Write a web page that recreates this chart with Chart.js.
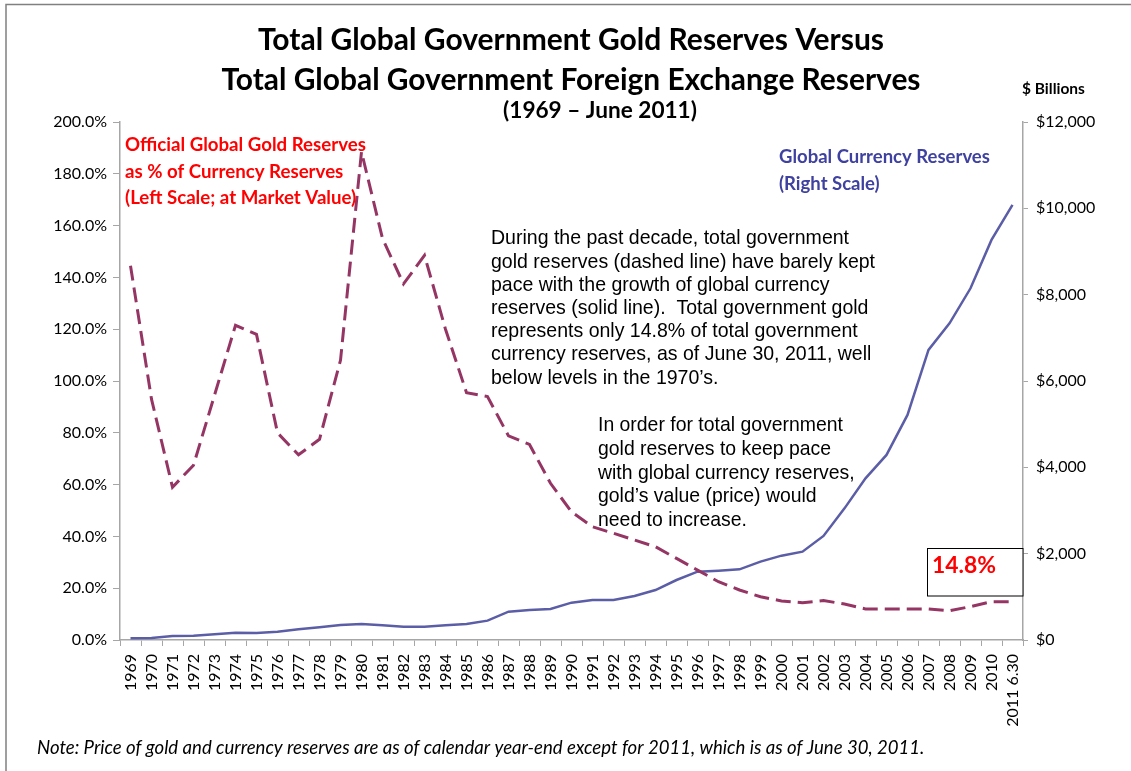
<!DOCTYPE html>
<html>
<head>
<meta charset="utf-8">
<script src="https://cdn.jsdelivr.net/npm/chart.js@4"></script>
<style>
  html, body { margin: 0; padding: 0; background: #ffffff; }
  #wrap { width: 1131px; height: 771px; position: relative; }
</style>
</head>
<body>
<div id="wrap"><canvas id="c" width="1131" height="771"></canvas></div>
<script>
// ---------- DATA ----------
const years = ['1969','1970','1971','1972','1973','1974','1975','1976','1977','1978','1979',
  '1980','1981','1982','1983','1984','1985','1986','1987','1988','1989',
  '1990','1991','1992','1993','1994','1995','1996','1997','1998','1999',
  '2000','2001','2002','2003','2004','2005','2006','2007','2008','2009','2010','2011 6.30'];

// Official global gold reserves as % of currency reserves (left scale)
const goldPctOfReserves = [144.5, 93, 59, 67.5, 94.5, 121.5, 118, 80, 71.5, 77.5, 108,
  188.5, 155, 137.5, 148.5, 120, 95.5, 94, 78.8, 75.5, 60.5,
  49.5, 43.7, 41.2, 38.6, 36, 31.5, 27, 22.5, 19.3, 16.7,
  15.1, 14.4, 15.2, 13.9, 12, 12, 12, 12, 11.3, 12.9, 14.8, 14.8];

// Global currency reserves, $ billions (right scale)
const currencyReserves = [40, 45, 93, 100, 131, 170, 165, 193, 247, 293, 347,
  370, 340, 309, 309, 340, 370, 448, 656, 695, 718,
  865, 927, 927, 1019, 1158, 1390, 1583, 1606, 1637, 1815,
  1954, 2046, 2410, 3050, 3746, 4287, 5214, 6719, 7337, 8148, 9268, 10079];

const leftAxis = { min: 0, max: 200, step: 20 };
const rightAxis = { min: 0, max: 12000, step: 2000 };

const titleLines = ['Total Global Government Gold Reserves Versus',
                    'Total Global Government Foreign Exchange Reserves'];
const subtitle = '(1969 \u2013 June 2011)';
const rightUnit = '$ Billions';
const goldLabel = ['Official Global Gold Reserves', 'as % of Currency Reserves', '(Left Scale; at Market Value)'];
const currencyLabel = ['Global Currency Reserves', '(Right Scale)'];
const para1 = ['During the past decade, total government',
  'gold reserves (dashed line) have barely kept',
  'pace with the growth of global currency',
  'reserves (solid line).  Total government gold',
  'represents only 14.8% of total government',
  'currency reserves, as of June 30, 2011, well',
  'below levels in the 1970\u2019s.'];
const para2 = ['In order for total government',
  'gold reserves to keep pace',
  'with global currency reserves,',
  'gold\u2019s value (price) would',
  'need to increase.'];
const callout = '14.8%';
const note = 'Note: Price of gold and currency reserves are as of calendar year-end except for 2011, which is as of June 30, 2011.';

// ---------- DRAWING HELPERS ----------
function fitSize(ctx, text, width, style, family) {
  ctx.font = style + ' 20px ' + family;
  const w = ctx.measureText(text).width;
  return 20 * width / w;
}
function drawLines(ctx, lines, x, y0, lh, size, style, family, color, align) {
  ctx.font = style + ' ' + size.toFixed(2) + 'px ' + family;
  ctx.fillStyle = color;
  ctx.textAlign = align || 'left';
  ctx.textBaseline = 'middle';
  lines.forEach((t, i) => ctx.fillText(t, x, y0 + i * lh));
}

const annotations = {
  id: 'annotations',
  beforeDraw(chart) {
    const ctx = chart.ctx;
    ctx.save();
    ctx.fillStyle = '#ffffff';
    ctx.fillRect(0, 0, chart.width, chart.height);
    // frame (top and left visible)
    ctx.strokeStyle = '#808080';
    ctx.lineWidth = 1.5;
    ctx.beginPath();
    ctx.moveTo(6, 771); ctx.lineTo(6, 4.5); ctx.lineTo(1131, 4.5);
    ctx.stroke();
    ctx.restore();
  },
  afterDraw(chart) {
    const ctx = chart.ctx;
    ctx.save();
    const cal = 'Lato, "Open Sans", sans-serif';
    const ari = '"Liberation Sans", Arial, sans-serif';
    // Title
    let s = fitSize(ctx, titleLines[0], 626, 'bold', cal);
    drawLines(ctx, [titleLines[0]], 571, 40, 0, s, 'bold', cal, '#000', 'center');
    s = fitSize(ctx, titleLines[1], 699, 'bold', cal);
    drawLines(ctx, [titleLines[1]], 571, 80, 0, s, 'bold', cal, '#000', 'center');
    s = fitSize(ctx, subtitle, 194, 'bold', cal);
    drawLines(ctx, [subtitle], 600, 111, 0, s, 'bold', cal, '#000', 'center');
    s = fitSize(ctx, rightUnit, 63, 'bold', cal);
    drawLines(ctx, [rightUnit], 1022, 89, 0, s, 'bold', cal, '#000', 'left');
    // Gold label (red)
    s = fitSize(ctx, goldLabel[0], 241, 'bold', cal);
    drawLines(ctx, goldLabel, 125, 145, 26.5, s, 'bold', cal, '#FF0000', 'left');
    // Currency label (blue)
    s = fitSize(ctx, currencyLabel[0], 211, 'bold', cal);
    drawLines(ctx, currencyLabel, 779, 157, 27, s, 'bold', cal, '#3F41A0', 'left');
    // Paragraphs
    s = fitSize(ctx, para1[0], 358, 'normal', ari);
    drawLines(ctx, para1, 491, 239, 23.2, s, 'normal', ari, '#000', 'left');
    s = fitSize(ctx, para2[0], 245, 'normal', ari);
    drawLines(ctx, para2, 598, 426, 23.7, s, 'normal', ari, '#000', 'left');
    // Callout box
    ctx.fillStyle = '#ffffff';
    ctx.fillRect(927, 548.5, 96, 47.5);
    ctx.strokeStyle = '#000';
    ctx.lineWidth = 1;
    ctx.strokeRect(927.5, 548.5, 95.5, 47.5);
    s = fitSize(ctx, callout, 64, 'bold', cal);
    drawLines(ctx, [callout], 932, 566, 0, s, 'bold', cal, '#FF0000', 'left');
    // Note
    s = fitSize(ctx, note, 888, 'italic', cal);
    drawLines(ctx, [note], 37, 748, 0, s, 'italic', cal, '#000', 'left');
    ctx.restore();
  }
};

const axisGray = '#A6A6A6';
const tickFont = { family: 'Lato, "Open Sans", sans-serif', size: 16 };

new Chart(document.getElementById('c'), {
  type: 'line',
  data: {
    labels: years,
    datasets: [
      {
        label: 'Official Global Gold Reserves as % of Currency Reserves',
        data: goldPctOfReserves,
        yAxisID: 'y',
        borderColor: '#953563',
        borderWidth: 3,
        borderDash: [15, 7],
        pointRadius: 0,
        tension: 0,
        fill: false
      },
      {
        label: 'Global Currency Reserves',
        data: currencyReserves,
        yAxisID: 'y1',
        borderColor: '#5B5EA6',
        borderWidth: 2.5,
        pointRadius: 0,
        tension: 0,
        fill: false
      }
    ]
  },
  options: {
    responsive: false,
    animation: false,
    devicePixelRatio: 1,
    layout: { padding: { top: 122, left: 0, right: 0, bottom: 0 } },
    plugins: { legend: { display: false }, title: { display: false }, tooltip: { enabled: false } },
    scales: {
      x: {
        type: 'category',
        offset: true,
        grid: { display: true, offset: true, drawOnChartArea: false, drawTicks: true, tickLength: 6, color: axisGray, lineWidth: 1 },
        border: { display: true, color: axisGray, width: 1.5 },
        ticks: { autoSkip: false, minRotation: 90, maxRotation: 90, padding: 8, color: '#000', font: tickFont },
        afterFit(scale) { scale.height = 131; }
      },
      y: {
        position: 'left',
        min: leftAxis.min, max: leftAxis.max,
        grid: { display: true, drawOnChartArea: false, drawTicks: true, tickLength: 7, color: axisGray },
        border: { display: true, color: axisGray, width: 1.5 },
        ticks: { stepSize: leftAxis.step, padding: 6, color: '#000', font: tickFont,
                 callback: v => v.toFixed(1) + '%' },
        afterFit(scale) { scale.width = 120; }
      },
      y1: {
        position: 'right',
        min: rightAxis.min, max: rightAxis.max,
        grid: { display: true, drawOnChartArea: false, drawTicks: true, tickLength: 5, color: axisGray },
        border: { display: true, color: axisGray, width: 1.5 },
        ticks: { stepSize: rightAxis.step, padding: 8, color: '#000', font: tickFont,
                 callback: v => '$' + v.toLocaleString('en-US') },
        afterFit(scale) { scale.width = 108; }
      }
    }
  },
  plugins: [annotations]
});
</script>
</body>
</html>
